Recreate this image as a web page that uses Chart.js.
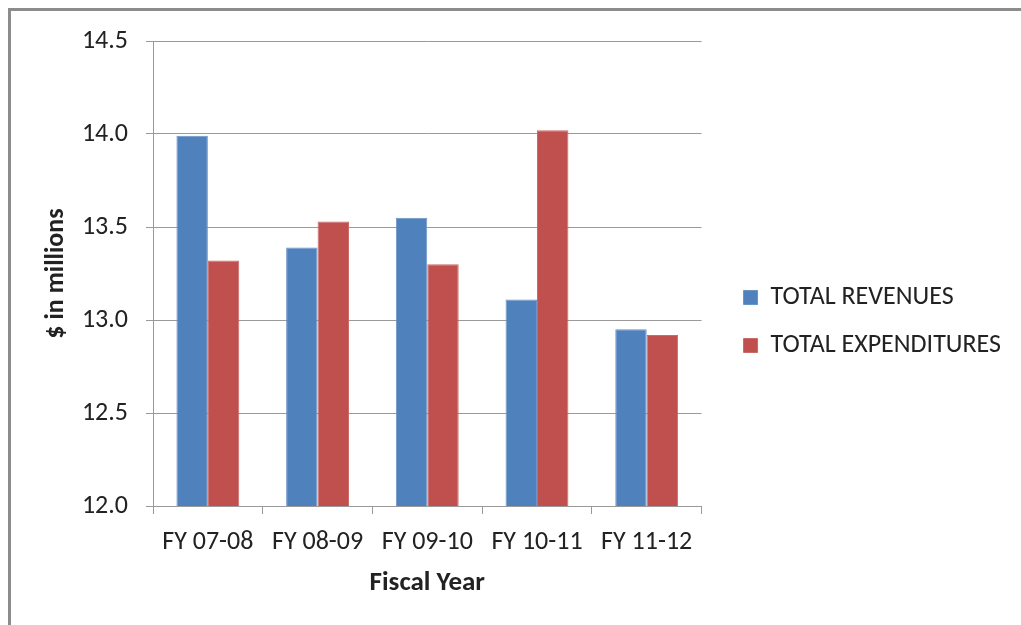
<!DOCTYPE html>
<html>
<head>
<meta charset="utf-8">
<script src="https://cdn.jsdelivr.net/npm/chart.js@4.4.1/dist/chart.umd.min.js"></script>
<style>
  html, body { margin: 0; padding: 0; background: #fff; }
  #frame { position: absolute; left: 8px; top: 8px; width: 1013px; height: 617px;
    border-top: 3px solid #8c8c8c; border-left: 3px solid #8c8c8c; box-sizing: border-box; }
  #wrap { position: absolute; left: 11px; top: 11px; width: 1010px; height: 614px; }
</style>
</head>
<body>
<div id="frame"></div>
<div id="wrap"><canvas id="chart"></canvas></div>
<script>
// values ($ in millions)
const years = ['FY 07-08', 'FY 08-09', 'FY 09-10', 'FY 10-11', 'FY 11-12'];
const revenues = [13.99, 13.39, 13.55, 13.11, 12.95];
const expenditures = [13.32, 13.53, 13.30, 14.02, 12.92];
const yMin = 12.0;
const yMax = 14.5;
const yStep = 0.5;

const FONT = 'Carlito, Lato, sans-serif';
Chart.defaults.font.family = FONT;
Chart.defaults.color = '#222';

const ctx = document.getElementById('chart').getContext('2d');
new Chart(ctx, {
  type: 'bar',
  data: {
    labels: years,
    datasets: [
      {
        label: 'TOTAL REVENUES',
        data: revenues,
        backgroundColor: '#4f81bd',
        borderColor: '#6a93c7',
        borderWidth: 1,
        categoryPercentage: 0.573,
        barPercentage: 1.0
      },
      {
        label: 'TOTAL EXPENDITURES',
        data: expenditures,
        backgroundColor: '#c0504d',
        borderColor: '#cc6a67',
        borderWidth: 1,
        categoryPercentage: 0.573,
        barPercentage: 1.0
      }
    ]
  },
  options: {
    responsive: true,
    maintainAspectRatio: false,
    animation: false,
    layout: { padding: { left: 30, right: 10, top: 30, bottom: 23 } },
    plugins: {
      tooltip: { enabled: false },
      legend: {
        position: 'right',
        maxWidth: 420,
        labels: {
          font: { size: 26 },
          color: '#222',
          boxWidth: 14,
          boxHeight: 14,
          padding: 22
        }
      }
    },
    scales: {
      x: {
        grid: { offset: true, drawOnChartArea: false, drawTicks: true, tickLength: 8, color: '#9a9a9a' },
        border: { color: '#9a9a9a' },
        ticks: { font: { size: 26 }, padding: 13, maxRotation: 0 },
        title: { display: true, text: 'Fiscal Year', font: { size: 27, weight: 'bold' }, padding: { top: 0, bottom: 3 } },
        afterFit: (s) => { s.height = 96; }
      },
      y: {
        min: yMin,
        max: yMax,
        grid: { color: '#9a9a9a', tickLength: 7 },
        border: { color: '#9a9a9a' },
        ticks: { stepSize: yStep, font: { size: 26 }, padding: 18, callback: (v) => v.toFixed(1) },
        title: { display: true, text: '$ in millions', font: { size: 26, weight: 'bold' }, padding: 0 },
        afterFit: (s) => { s.width = 112; s.paddingTop = 0; }
      },
      gap: {
        type: 'linear',
        position: 'right',
        grid: { display: false },
        border: { display: false },
        ticks: { display: false },
        afterFit: (s) => { s.width = 20; }
      }
    }
  }
});
</script>
</body>
</html>
